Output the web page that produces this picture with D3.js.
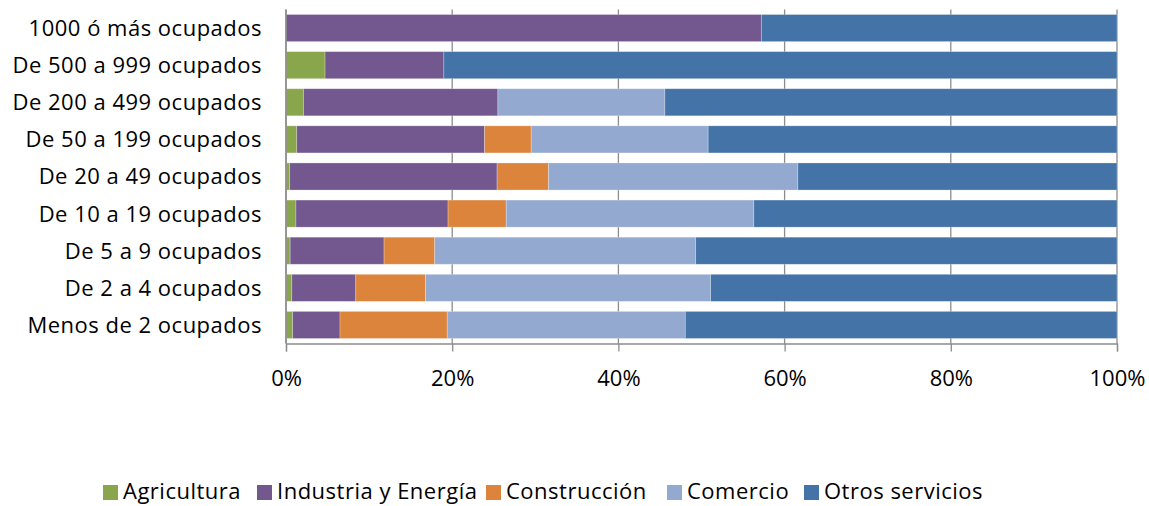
<!DOCTYPE html>
<html>
<head>
<meta charset="utf-8">
<script src="https://cdn.jsdelivr.net/npm/d3@7"></script>
<style>
  body { margin: 0; background: #fff; }
  svg { display: block; font-family: "Open Sans", sans-serif; }
</style>
</head>
<body>
<div id="chart"></div>
<script>
// categories, top to bottom
const categories = [
    "1000 ó más ocupados",
    "De 500 a 999 ocupados",
    "De 200 a 499 ocupados",
    "De 50 a 199 ocupados",
    "De 20 a 49 ocupados",
    "De 10 a 19 ocupados",
    "De 5 a 9 ocupados",
    "De 2 a 4 ocupados",
    "Menos de 2 ocupados"
];

const seriesNames = ["Agricultura", "Industria y Energía", "Construcción", "Comercio", "Otros servicios"];
const seriesColors = ["#8aa64c", "#72588e", "#dd843c", "#94a9cf", "#4473a8"];

// percent shares per category (same order as categories)
const agricultura = [0.0, 4.7, 2.1, 1.3, 0.45, 1.2, 0.5, 0.7, 0.8];
const industria = [57.2, 14.3, 23.4, 22.6, 24.95, 18.3, 11.3, 7.7, 5.7];
const construccion = [0.0, 0.0, 0.0, 5.6, 6.2, 7.0, 6.1, 8.4, 12.9];
const comercio = [0.0, 0.0, 20.1, 21.3, 30.0, 29.8, 31.4, 34.3, 28.65];
const otros = [42.8, 81.0, 54.4, 49.2, 38.4, 43.7, 50.7, 48.9, 51.95];

const xTicks = [0, 20, 40, 60, 80, 100];

const width = 1149, height = 506;
const margin = { top: 9.5, right: 32, bottom: 162.5, left: 286 };
const fontSize = "22px";

let rows = categories.map((c, i) => ({
    cat: c,
    "Agricultura": agricultura[i],
    "Industria y Energía": industria[i],
    "Construcción": construccion[i],
    "Comercio": comercio[i],
    "Otros servicios": otros[i]
}));

let svg = d3.select("#chart")
    .append("svg")
    .attr("width", width)
    .attr("height", height);

let x = d3.scaleLinear()
    .domain([0, 100])
    .range([margin.left, width - margin.right]);

let y = d3.scaleBand()
    .domain(categories)
    .range([margin.top, height - margin.bottom])
    .paddingInner(0.27)
    .paddingOuter(0.135);

let color = d3.scaleOrdinal().domain(seriesNames).range(seriesColors);

let plotBottom = height - margin.bottom;

// vertical gridlines
svg.append("g")
    .selectAll("line")
    .data(xTicks)
    .enter()
    .append("line")
    .attr("x1", d => x(d))
    .attr("x2", d => x(d))
    .attr("y1", margin.top)
    .attr("y2", plotBottom)
    .attr("stroke", "#8c8c8c")
    .attr("stroke-width", 1.3);

// stacked bars
let stacked = d3.stack().keys(seriesNames)(rows);

svg.append("g")
    .selectAll("g")
    .data(stacked)
    .enter()
    .append("g")
    .attr("fill", d => color(d.key))
    .selectAll("rect")
    .data(d => d.filter(p => p[1] - p[0] > 0))
    .enter()
    .append("rect")
    .attr("x", d => x(d[0]))
    .attr("y", d => y(d.data.cat))
    .attr("width", d => x(d[1]) - x(d[0]))
    .attr("height", y.bandwidth())
    .attr("stroke", "rgba(255,255,255,0.35)")
    .attr("stroke-width", 0.75);

// x axis
let xAxis = svg.append("g")
    .attr("transform", "translate(0," + plotBottom + ")")
    .call(d3.axisBottom(x).tickValues(xTicks).tickSize(8).tickPadding(19)
        .tickFormat(d => d + "%"));

xAxis.select(".domain").attr("stroke", "#8c8c8c").attr("stroke-width", 1.3);
xAxis.selectAll(".tick line").attr("stroke", "#8c8c8c").attr("stroke-width", 1.3);
xAxis.selectAll("text")
    .style("font-family", "'Open Sans', sans-serif")
    .style("font-size", fontSize)
    .attr("fill", "#000");

// left axis line
svg.append("line")
    .attr("x1", x(0)).attr("x2", x(0))
    .attr("y1", margin.top).attr("y2", plotBottom)
    .attr("stroke", "#8c8c8c")
    .attr("stroke-width", 1.5);

// category labels
svg.append("g")
    .selectAll("text")
    .data(categories)
    .enter()
    .append("text")
    .attr("x", 262)
    .attr("y", d => y(d) + y.bandwidth() / 2)
    .attr("dy", "0.36em")
    .attr("text-anchor", "end")
    .style("font-size", fontSize)
    .style("letter-spacing", "0.5px")
    .attr("fill", "#000")
    .text(d => d);

// legend
let legendX = [103, 257, 486, 667, 804];
let legend = svg.append("g")
    .selectAll("g")
    .data(seriesNames)
    .enter()
    .append("g")
    .attr("transform", (d, i) => "translate(" + legendX[i] + ",0)");

legend.append("rect")
    .attr("x", 0)
    .attr("y", 485)
    .attr("width", 15)
    .attr("height", 15)
    .attr("fill", d => color(d));

legend.append("text")
    .attr("x", 20)
    .attr("y", 499)
    .style("font-size", fontSize)
    .style("letter-spacing", "0.5px")
    .attr("fill", "#000")
    .text(d => d);
</script>
</body>
</html>
